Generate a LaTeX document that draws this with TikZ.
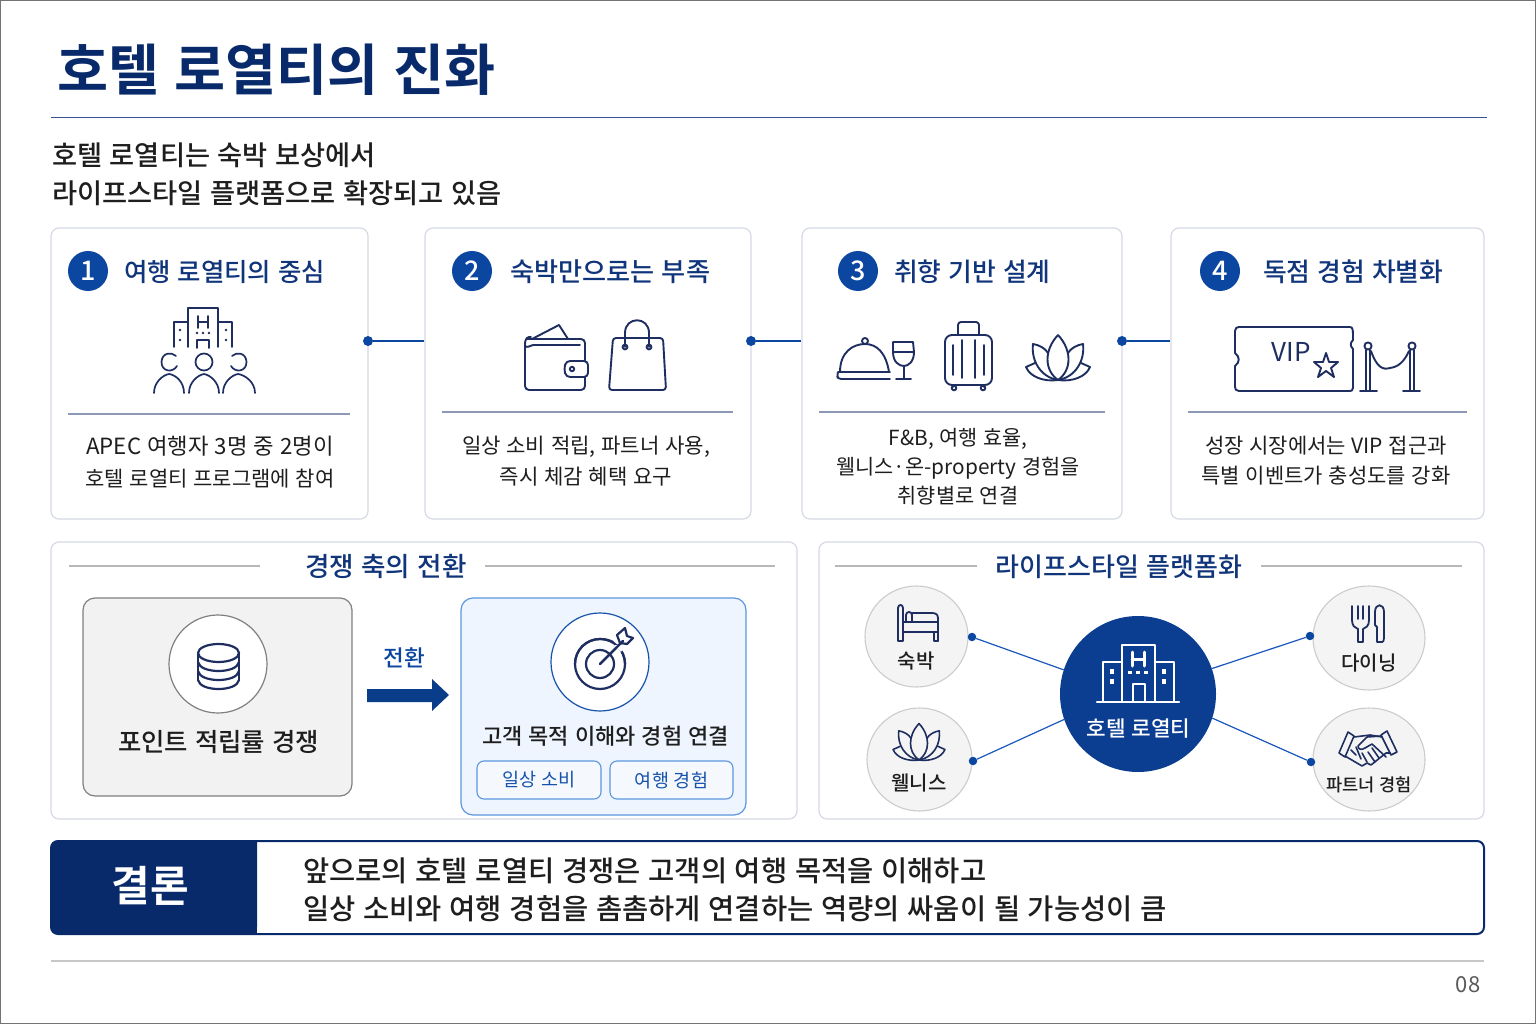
\documentclass[tikz,border=0pt]{standalone}
\usepackage{fontspec}
\setmainfont[WordSpace=1.2]{Noto Sans CJK KR}
\newfontfamily\medf[WordSpace=1.2]{Noto Sans CJK KR Medium}
\newfontfamily\bldf[WordSpace=1.2]{Noto Sans CJK KR Bold}
\usetikzlibrary{calc,shapes.geometric}
\definecolor{navy}{HTML}{10357A}
\definecolor{deep}{HTML}{082A6B}
\definecolor{blue}{HTML}{0B47A1}
\definecolor{brightb}{HTML}{1A58BE}
\definecolor{hubc}{HTML}{0B3D91}
\definecolor{ink}{HTML}{1E2E60}
\definecolor{txt}{HTML}{1E1E1E}
\definecolor{edge}{HTML}{D6DAE4}
\definecolor{rule}{HTML}{8C98B5}
\definecolor{skyline}{HTML}{5C96DE}
\definecolor{skyfill}{HTML}{EEF5FE}
\newcommand{\fs}[2]{\fontsize{#1}{#2}\selectfont}
\tikzset{
  cardbox/.style={draw=edge,line width=1.2pt,fill=white,rounded corners=8pt,inner sep=0pt},
  numdot/.style={circle,fill=blue,text=white,minimum size=40pt,inner sep=0pt,font=\medf\fs{27}{27}},
  headtxt/.style={anchor=west,text=navy,inner sep=0pt,font=\medf\fs{25.8}{30}},
  bodytxt/.style={align=center,text=txt,inner sep=0pt},
  divider/.style={draw=rule,line width=1.1pt},
  dotn/.style={circle,fill=blue,minimum size=10pt,inner sep=0pt},
  link/.style={draw=blue,line width=1.4pt},
  thin link/.style={draw=brightb,line width=1.2pt},
  ico/.style={draw=ink,line width=1.9pt,line cap=round,line join=round},
  sat/.style={ellipse,draw=black!20,line width=1.1pt,fill=black!4.5,inner sep=0pt},
  sectitle/.style={text=navy,inner sep=0pt,font=\medf\fs{26}{30}},
  secline/.style={draw=black!28,line width=1.1pt},
  pill/.style={draw=skyline,line width=1.1pt,fill=skyfill!60!white,rounded corners=7pt,inner sep=0pt,text=blue!85!skyline,font=\fs{18.5}{22}},
  sattxt/.style={text=txt,inner sep=0pt,font=\medf\fs{20}{24}}
}
\newcommand{\lotus}[4]{% cx, baseY, scale, style
\begin{scope}[shift={(#1,#2)},x=#3pt,y=-#3pt,#4]
 \draw (0,-45) .. controls (-14,-30) and (-14,-10) .. (0,0) .. controls (14,-10) and (14,-30) .. (0,-45);
 \draw (-10,-27) .. controls (-13,-32) and (-19,-35) .. (-25,-36) .. controls (-27,-20) and (-18,-3) .. (0,0);
 \draw (10,-27) .. controls (13,-32) and (19,-35) .. (25,-36) .. controls (27,-20) and (18,-3) .. (0,0);
 \draw (-23,-17) -- (-32,-13) .. controls (-28,-3) and (-14,2) .. (0,0) .. controls (14,2) and (28,-3) .. (32,-13) -- (23,-17);
\end{scope}}
\begin{document}
\begin{tikzpicture}[x=1pt,y=-1pt]
\useasboundingbox (0,0) rectangle (1536,1024);
\fill[white] (0,0) rectangle (1536,1024);
\draw[black!55,line width=1pt] (0.5,0.5) rectangle (1535.5,1023.5);

% title
\node[anchor=west,inner sep=0pt,text=deep,font=\bldf\fs{55.5}{60}] (title) at (57,69.5) {호텔 로열티의 진화};
\coordinate (titleL) at (51,118); \coordinate (titleR) at (1487,118);
\draw[draw=navy!85,line width=1pt] (titleL) -- (titleR);
\node[anchor=west,align=left,inner sep=0pt,text=txt,font=\medf\fs{27.3}{38}] (intro) at (52,174) {호텔 로열티는 숙박 보상에서\\라이프스타일 플랫폼으로 확장되고 있음};

% cards
\node[cardbox,minimum width=317pt,minimum height=291pt] (c1) at (209.5,373.5) {};
\node[cardbox,minimum width=326pt,minimum height=291pt] (c2) at (588,373.5) {};
\node[cardbox,minimum width=320pt,minimum height=291pt] (c3) at (962,373.5) {};
\node[cardbox,minimum width=313pt,minimum height=291pt] (c4) at (1327.5,373.5) {};

\node[dotn] (d1) at (368,341) {};
\node[dotn] (d2) at (751,341) {};
\node[dotn] (d3) at (1122,341) {};
\draw[link] (d1) -- (c2.west |- d1);
\draw[link] (d2) -- (c3.west |- d2);
\draw[link] (d3) -- (c4.west |- d3);

\node[numdot] (n1) at (88,271) {1};
\node[numdot] (n2) at (472,271) {2};
\node[numdot] (n3) at (858,271) {3};
\node[numdot] (n4) at (1220,271) {4};
\node[headtxt,font=\medf\fs{25.4}{30}] (h1) at (124,272) {여행 로열티의 중심};
\node[headtxt,font=\medf\fs{26.2}{30}] (h2) at (510,272) {숙박만으로는 부족};
\node[headtxt] (h3) at (894,272) {취향 기반 설계};
\node[headtxt] (h4) at (1263,272) {독점 경험 차별화};

\draw[divider] (68,414) -- (350,414);
\draw[divider] (442,412) -- (733,412);
\draw[divider] (819,412) -- (1105,412);
\draw[divider] (1188,412) -- (1467,412);

\node[bodytxt,font=\fs{21}{32}] (b1) at (210,462) {{\fs{22.3}{32}APEC 여행자 3명 중 2명이}\\호텔 로열티 프로그램에 참여};
\node[bodytxt,font=\fs{21.1}{31}] (b2) at (586,461.5) {일상 소비 적립, 파트너 사용,\\즉시 체감 혜택 요구};
\node[bodytxt,font=\fs{20.8}{29}] (b3) at (958,467) {F\&B, 여행 효율,\\웰니스·온-property 경험을\\취향별로 연결};
\node[bodytxt,font=\fs{21}{30}] (b4) at (1326,460.5) {성장 시장에서는 VIP 접근과\\특별 이벤트가 충성도를 강화};

% icon 1: hotel and people
\begin{scope}[ico,line width=1.7pt]
 \draw (188,347) -- (188,308) -- (218,308) -- (218,347);
 \draw (174,347) -- (174,322) -- (188,322);
 \draw (232,347) -- (232,322) -- (218,322);
 \draw (198,316) -- (198,328) (208,316) -- (208,328) (198,322) -- (208,322);
 \draw (197,348) -- (197,340) -- (209,340) -- (209,348);
 \foreach \p in {(180,330),(180,340),(226,330),(226,340),(197,333),(203,333),(209,333)} \fill[ink] \p circle[radius=1.4];
 \draw (204,362) circle[radius=8.5];
 \draw (176,356) .. controls (172,352) and (162,352) .. (161.5,362) .. controls (161.5,372) and (173,373) .. (177,366);
 \draw (232,356) .. controls (236,352) and (246,352) .. (246.5,362) .. controls (246.5,372) and (235,373) .. (231,366);
 \draw (154,393) .. controls (154,382) and (163,375) .. (169,374) .. controls (176,375) and (184,382) .. (184,393);
 \draw (189,393) .. controls (189,382) and (198,375) .. (204,374) .. controls (210,375) and (219,382) .. (219,393);
 \draw (223,393) .. controls (223,382) and (232,375) .. (238,374) .. controls (245,375) and (255,382) .. (255,393);
\end{scope}

% icon 2: wallet + bag
\begin{scope}[ico]
 \draw[rounded corners=4pt] (527,339) -- (585,339) -- (585,390) -- (525,390) -- (525,345);
 \draw (525,345) .. controls (525,337) and (528,337) .. (531,337);
 \draw (525,346) .. controls (527,348) and (530,346) .. (533,345) -- (580,345);
 \draw (532,339) -- (559,325) -- (568,339);
 \draw[rounded corners=4pt,fill=white] (588,361) -- (566,361) -- (564,369) -- (566,377) -- (588,377) -- cycle;
 \draw (572,369) circle[radius=2.2];
 \draw[rounded corners=3pt] (613,338) -- (663,338) -- (666,390) -- (609,390) -- cycle;
 \draw (625,347) -- (625,333) .. controls (625,316) and (649,316) .. (649,333) -- (649,347);
 \draw (625,347) circle[radius=2.4] (649,347) circle[radius=2.4];
\end{scope}

% icon 3: cloche, glass, suitcase, lotus
\begin{scope}[ico]
 \draw (840,372) .. controls (840,352) and (853,344) .. (865,344) .. controls (877,344) and (886,353) .. (889,372);
 \draw (865,341) circle[radius=3];
 \draw[rounded corners=3pt] (838,372) -- (890,372) (890,379) -- (838,379) -- (837,375) -- (838,372);
 \draw (893,342) -- (913,342) -- (914,352) .. controls (914,362) and (908,366) .. (904,366) .. controls (899,366) and (893,362) .. (893,352) -- cycle;
 \draw (893,352) -- (914,352);
 \draw (904,366) -- (904,379) (896,379) -- (911,379);
 \draw[rounded corners=7pt] (945,335) rectangle (992,385);
 \draw[rounded corners=3pt] (958,335) -- (958,322) -- (979,322) -- (979,335);
 \draw (953,385) -- (953,387) (984,385) -- (984,387);
 \draw (954,388) circle[radius=2.3] (983,388) circle[radius=2.3];
 \draw (953,345) -- (953,375) (962,340) -- (962,378) (975,340) -- (975,378) (984,345) -- (984,375);
\end{scope}
\lotus{1058}{380}{1}{ico}

% icon 4: ticket, rope
\begin{scope}[ico]
 \draw (1239,327) -- (1350,327) .. controls (1353,327) and (1353,330) .. (1353,340) .. controls (1350,343) and (1350,346) .. (1353,349) -- (1353,388) .. controls (1353,391) and (1351,391) .. (1349,391) -- (1239,391) .. controls (1236,391) and (1235,389) .. (1235,387) -- (1235,366) .. controls (1240,362) and (1240,357) .. (1235,353) -- (1235,331) .. controls (1235,328) and (1237,327) .. (1239,327) -- cycle;
 \draw (1326,353) -- (1329,362) -- (1338,362) -- (1331,368) -- (1334,377) -- (1326,371) -- (1318,377) -- (1321,368) -- (1314,362) -- (1323,362) -- cycle;
 \draw (1368,346) circle[radius=3.6] (1412,346) circle[radius=3.6];
 \draw (1366,350) -- (1366,390) (1370,350) -- (1370,390) (1410,350) -- (1410,390) (1414,350) -- (1414,390);
 \draw (1360,391) -- (1377,391) (1403,391) -- (1420,391);
 \draw (1371,351) .. controls (1377,368) and (1383,370) .. (1390,368) .. controls (1398,367) and (1404,362) .. (1409,351);
\end{scope}
\node[inner sep=0pt,text=ink,font=\fs{26}{30}] (vip) at (1291,352) {VIP};

% lower left panel
\node[cardbox,minimum width=746pt,minimum height=277pt] (p1) at (424,680.5) {};
\node[sectitle,font=\medf\fs{26.6}{30}] (s1) at (386,567) {경쟁 축의 전환};
\coordinate (s1a) at (69,566); \coordinate (s1b) at (775,566);
\draw[secline] (s1a) -- (260,566) (485,566) -- (s1b);

\node[draw=black!50,line width=1.2pt,fill=black!5,rounded corners=12pt,minimum width=269pt,minimum height=198pt,inner sep=0pt] (grey) at (217.5,697) {};
\node[circle,draw=black!50,line width=1.2pt,fill=white,minimum size=98pt,inner sep=0pt] (gc) at (218,664) {};
\node[inner sep=0pt,text=txt,font=\medf\fs{25.4}{30}] (gt) at (218.5,742) {포인트 적립률 경쟁};
\begin{scope}[ico,line width=2.2pt]
 \draw (198,653) -- (198,680) (239,653) -- (239,680);
 \draw (218.5,653) ellipse[x radius=20.5,y radius=9];
 \draw (198,662) .. controls (200,674) and (237,674) .. (239,662);
 \draw (198,671) .. controls (200,683) and (237,683) .. (239,671);
 \draw (198,680) .. controls (200,692) and (237,692) .. (239,680);
\end{scope}

\node[inner sep=0pt,text=blue,font=\medf\fs{22.5}{26}] (arrowt) at (404,658) {전환};
\fill[blue!85!black] (367,689) -- (432,689) -- (432,679) -- (449,695) -- (432,711) -- (432,702) -- (367,702) -- cycle;

\node[draw=skyline,line width=1.2pt,fill=skyfill,rounded corners=12pt,minimum width=285pt,minimum height=217pt,inner sep=0pt] (sky) at (603.5,706.5) {};
\node[circle,draw=blue!85!skyline,line width=1.2pt,fill=white,minimum size=98pt,inner sep=0pt] (tc) at (600,662) {};
\node[inner sep=0pt,text=txt,font=\medf\fs{22}{28}] (tt) at (605.5,736.5) {고객 목적 이해와 경험 연결};
\node[pill,minimum width=124pt,minimum height=38pt] (pa) at (539,780) {일상 소비};
\node[pill,minimum width=123pt,minimum height=38pt] (pb) at (671.5,780) {여행 경험};
\begin{scope}[ico,line width=2.2pt]
 \draw (600,664) circle[radius=25] ;
 \draw (600,664) circle[radius=14];
 \draw (600,664) -- (623,641);
 \draw (620,643) -- (617,635) -- (625,628) -- (627,636) -- (633,638) -- (627,644) -- cycle;
\end{scope}
\fill[white] (614,645) -- (622,653) -- (622,645) -- cycle;
\begin{scope}[ico,line width=2.2pt]
 \draw (600,664) -- (623,641);
 \draw (575,664) .. controls (575,650) and (586,639) .. (600,639) .. controls (605,639) and (609,640) .. (613,642);
 \draw (622,652) .. controls (624,656) and (625,660) .. (625,664);
\end{scope}

% lower right panel
\node[cardbox,minimum width=665pt,minimum height=277pt] (p2) at (1151.5,680.5) {};
\node[sectitle] (s2) at (1119,567) {라이프스타일 플랫폼화};
\draw[secline] (835,566) -- (977,566) (1261,566) -- (1462,566);

\node[circle,fill=hubc,minimum size=156pt,inner sep=0pt] (hub) at (1138,694) {};
\node[sat,minimum width=103pt,minimum height=101pt] (s1c) at (916.5,636.5) {};
\node[sat,minimum width=105pt,minimum height=103pt] (s2c) at (919.5,759.5) {};
\node[sat,minimum width=112pt,minimum height=104pt] (s3c) at (1369,638) {};
\node[sat,minimum width=112pt,minimum height=103pt] (s4c) at (1369,759.5) {};
\node[dotn,minimum size=8.5pt] (da) at (972,637) {};
\node[dotn,minimum size=8.5pt] (db) at (973,761) {};
\node[dotn,minimum size=8.5pt] (dc) at (1310,636) {};
\node[dotn,minimum size=8.5pt] (dd) at (1311,762) {};
\draw[thin link] (da) -- (hub.162);
\draw[thin link] (db) -- (hub.199);
\draw[thin link] (dc) -- (hub.19);
\draw[thin link] (dd) -- (hub.-18);
\node[sattxt] (t1) at (916,661) {숙박};
\node[sattxt] (t2) at (919,783) {웰니스};
\node[sattxt] (t3) at (1369,663) {다이닝};
\node[sattxt,font=\medf\fs{17.6}{24}] (t4) at (1369,785) {파트너 경험};
\node[inner sep=0pt,text=white,font=\medf\fs{21.3}{26}] (t5) at (1138.5,729) {호텔 로열티};

% hub building
\begin{scope}[draw=white,line width=2.4pt,line cap=round,line join=round]
 \draw (1122,701) -- (1122,645) -- (1155,645) -- (1155,701);
 \draw (1103,701) -- (1103,662) -- (1122,662);
 \draw (1174,701) -- (1174,662) -- (1155,662);
 \draw (1097,702) -- (1179,702);
 \draw (1133,701) -- (1133,684) -- (1145,684) -- (1145,701);
 \draw[line width=3pt] (1132,652) -- (1132,666) (1144,652) -- (1144,666) (1132,659) -- (1144,659);
 \foreach \p in {(1112,671),(1112,681),(1164,671),(1164,681)} \fill[white] \p +(-1.7,-2.5) rectangle +(1.7,2.5);
 \foreach \p in {(1130,672),(1138,672),(1146,672)} \fill[white] \p +(-2,-1.5) rectangle +(2,1.5);
\end{scope}

% bed
\begin{scope}[ico,line width=1.8pt]
 \draw (898,641) -- (898,608) .. controls (898,604) and (903,604) .. (903,608) -- (903,641) -- (898,641);
 \draw (903,632) -- (938,632) (903,622) -- (938,622) (938,641) -- (938,618) .. controls (938,613) and (934,613) .. (930,613) -- (912,613);
 \draw (934,641) -- (938,641) (934,641) -- (934,632);
 \draw (906,621) -- (906,615) .. controls (906,611) and (912,611) .. (912,615) -- (912,621);
\end{scope}
% fork & knife
\begin{scope}[ico,line width=1.8pt]
 \draw (1352,606) -- (1352,620) .. controls (1352,626) and (1355,628) .. (1358,629) -- (1358,642) -- (1363,642) -- (1363,629) .. controls (1366,628) and (1369,626) .. (1369,620) -- (1369,606);
 \draw (1358,606) -- (1358,619) (1363,606) -- (1363,619);
 \draw (1377,642) -- (1382,642) .. controls (1383,642) and (1384,641) .. (1384,638) -- (1384,612) .. controls (1384,603) and (1375,603) .. (1375,612) -- (1375,625) -- (1377,627) -- cycle;
\end{scope}
\lotus{919}{760}{0.81}{ico,line width=1.6pt}
% handshake
\begin{scope}[ico,line width=1.6pt]
 \draw (1348,732) -- (1339,753) -- (1345,757) -- (1354,736) -- cycle;
 \draw (1387,731) -- (1397,752) -- (1391,755) -- (1381,735) -- cycle;
 \draw (1354,737) -- (1370,735) -- (1382,737);
 \draw (1381,736) -- (1367,737) -- (1358,746) .. controls (1358,750) and (1362,750) .. (1365,748) -- (1372,744) -- (1386,757);
 \draw (1345,756) -- (1362,766) -- (1367,763) -- (1371,765) -- (1386,753) -- (1390,753);
 \draw (1351,750) -- (1356,755) (1356,747) -- (1361,759) (1362,753) -- (1367,762) (1372,748) -- (1379,758) (1368,752) -- (1375,762);
\end{scope}

% conclusion
\node[draw=deep,line width=2pt,fill=white,rounded corners=7pt,minimum width=1433pt,minimum height=93pt,inner sep=0pt] (cbox) at (767.5,887.5) {};
\fill[deep,rounded corners=7pt] (257,841) -- (51,841) -- (51,934) -- (257,934) [sharp corners] -- cycle;
\fill[deep] (240,841) rectangle (257,934);
\node[inner sep=0pt,text=white,font=\bldf\fs{42}{46}] (ct) at (150,886) {결론};
\node[anchor=west,align=left,inner sep=0pt,text=txt,font=\medf\fs{28.5}{38}] (cb) at (303,890) {앞으로의 호텔 로열티 경쟁은 고객의 여행 목적을 이해하고\\일상 소비와 여행 경험을 촘촘하게 연결하는 역량의 싸움이 될 가능성이 큼};

\draw[draw=black!22,line width=1.1pt] (51,961) -- (1484,961);
\node[inner sep=0pt,text=black!65,font=\fs{22}{26}] (pg) at (1468,985) {08};
\end{tikzpicture}
\end{document}
